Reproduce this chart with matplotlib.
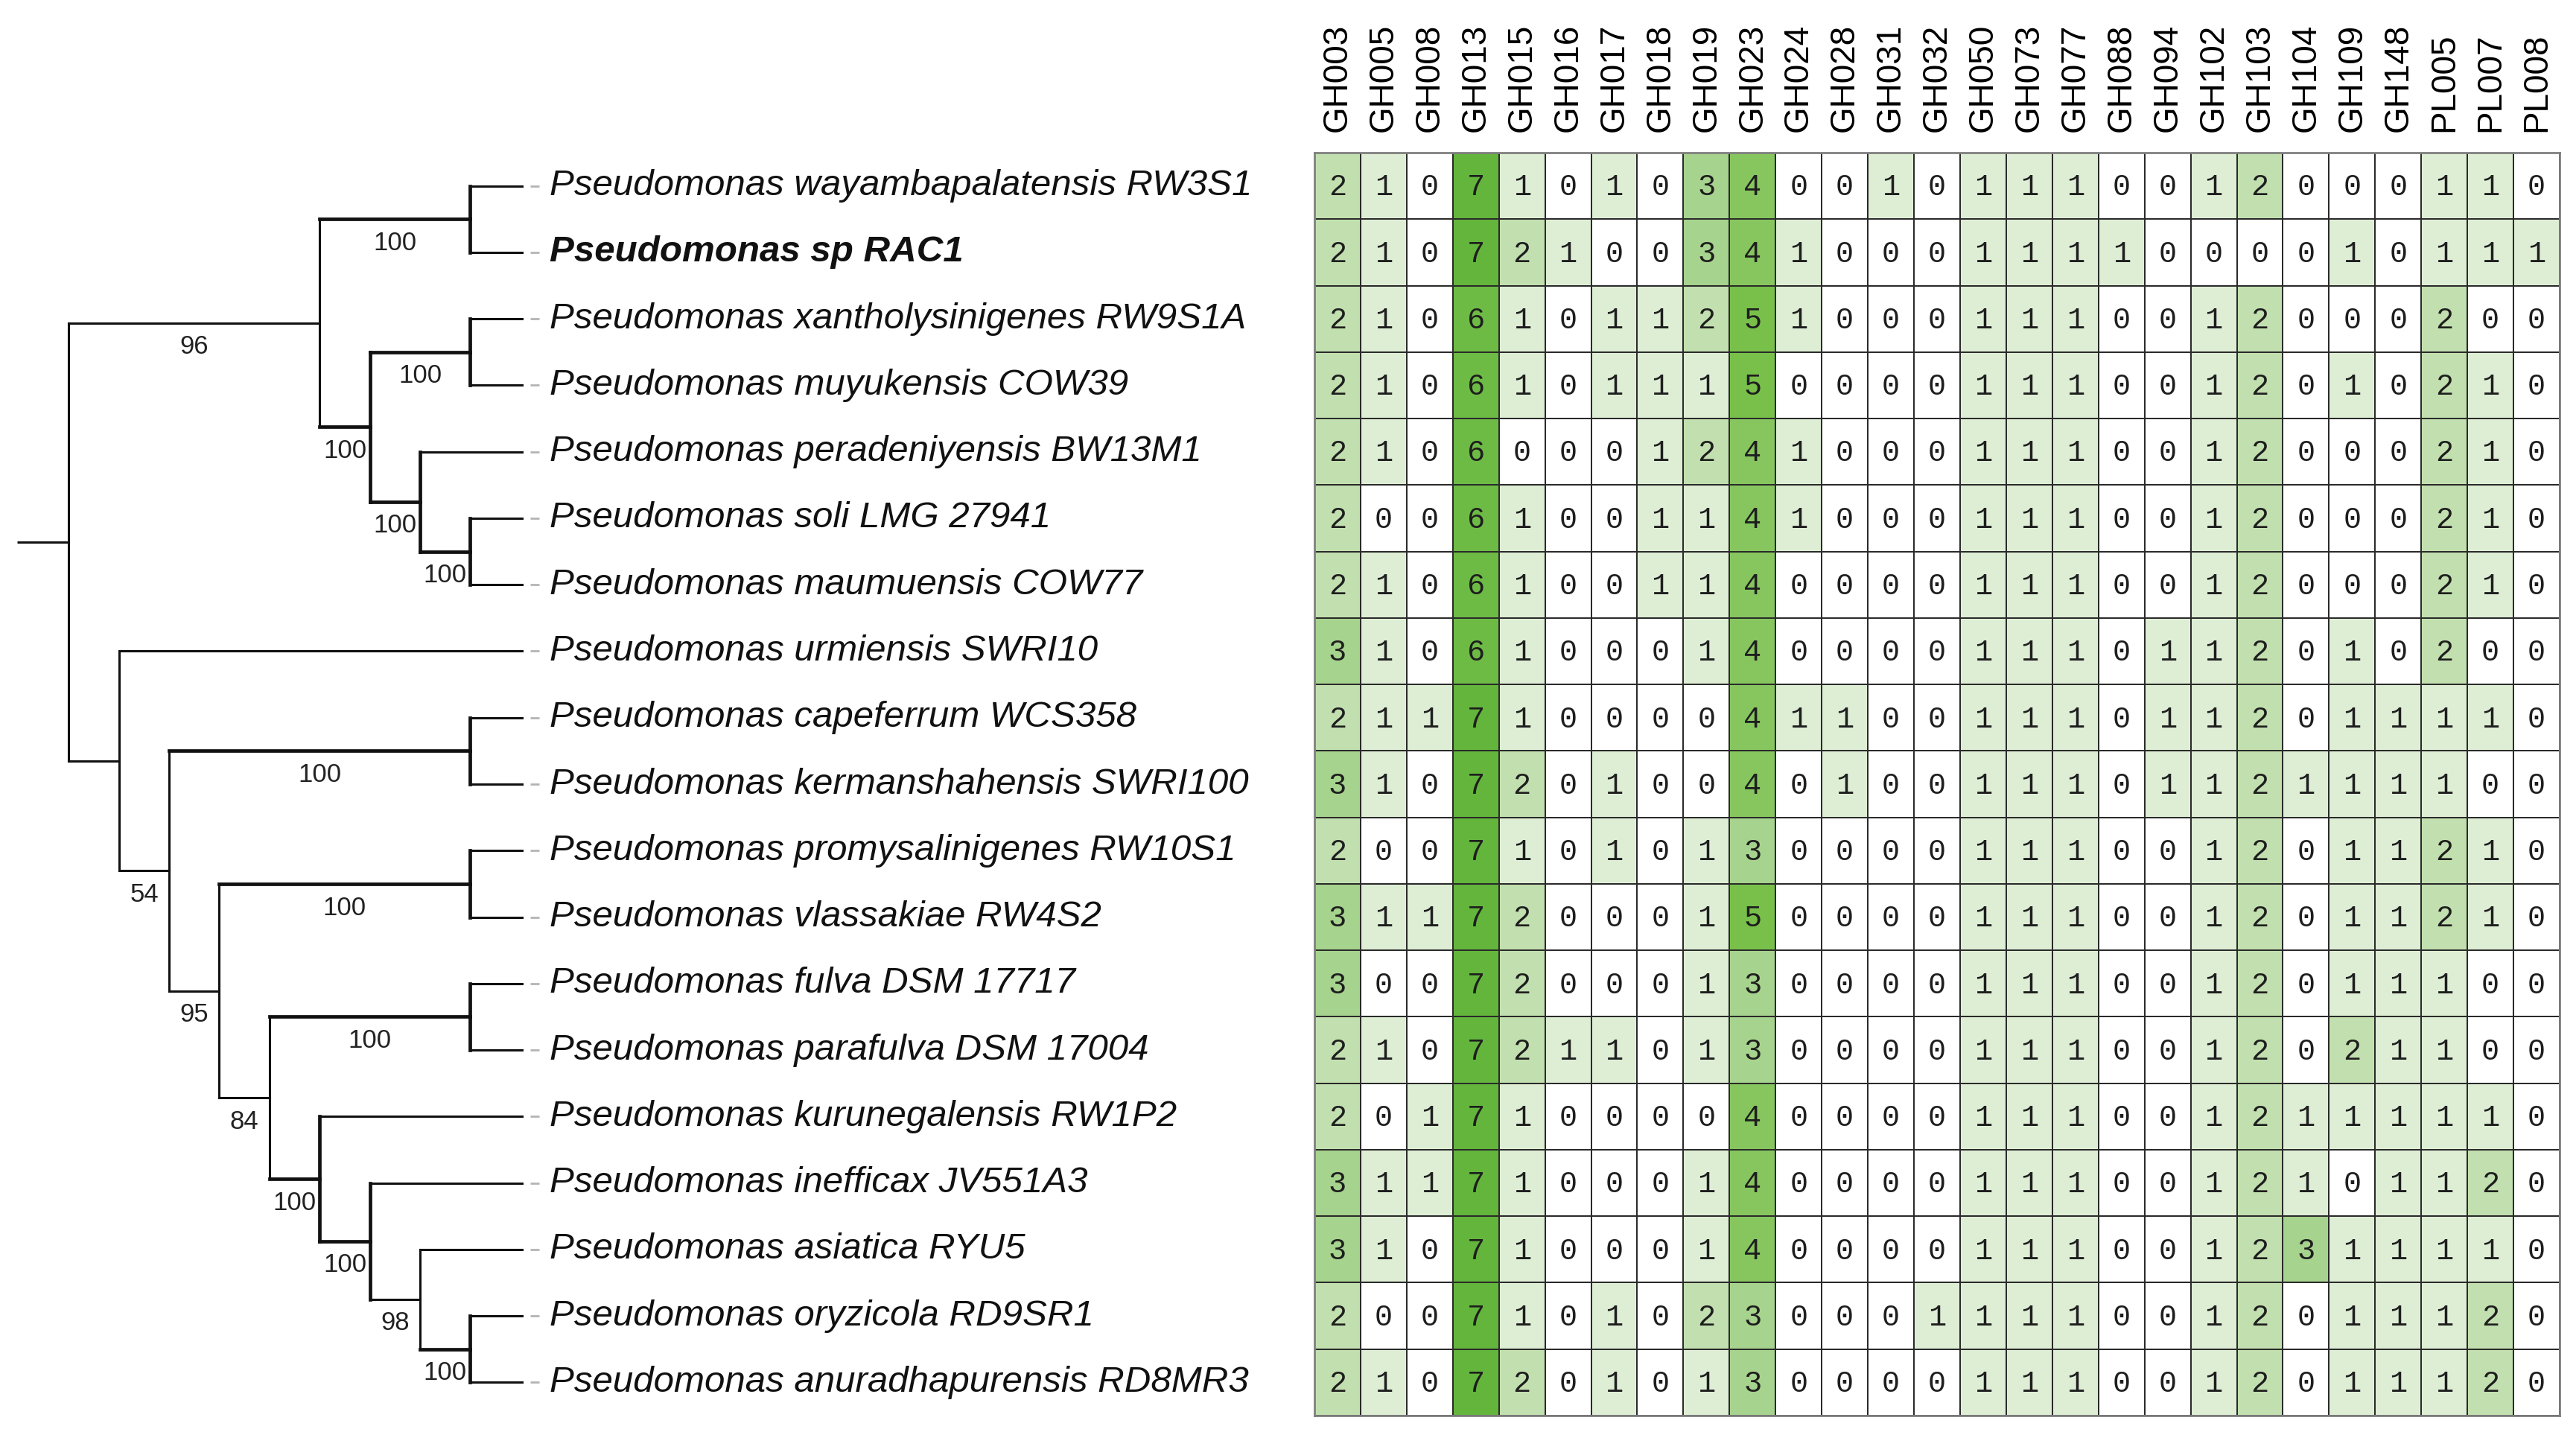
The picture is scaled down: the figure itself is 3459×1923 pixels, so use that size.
import matplotlib
matplotlib.use("Agg")
import matplotlib.pyplot as plt
import numpy as np
from matplotlib.colors import ListedColormap, BoundaryNorm

# ---------------- data ----------------
species = [
    "Pseudomonas wayambapalatensis RW3S1",
    "Pseudomonas sp RAC1",
    "Pseudomonas xantholysinigenes RW9S1A",
    "Pseudomonas muyukensis COW39",
    "Pseudomonas peradeniyensis BW13M1",
    "Pseudomonas soli LMG 27941",
    "Pseudomonas maumuensis COW77",
    "Pseudomonas urmiensis SWRI10",
    "Pseudomonas capeferrum WCS358",
    "Pseudomonas kermanshahensis SWRI100",
    "Pseudomonas promysalinigenes RW10S1",
    "Pseudomonas vlassakiae RW4S2",
    "Pseudomonas fulva DSM 17717",
    "Pseudomonas parafulva DSM 17004",
    "Pseudomonas kurunegalensis RW1P2",
    "Pseudomonas inefficax JV551A3",
    "Pseudomonas asiatica RYU5",
    "Pseudomonas oryzicola RD9SR1",
    "Pseudomonas anuradhapurensis RD8MR3",
]
highlight = "Pseudomonas sp RAC1"

families = ["GH003", "GH005", "GH008", "GH013", "GH015", "GH016", "GH017", "GH018",
            "GH019", "GH023", "GH024", "GH028", "GH031", "GH032", "GH050", "GH073",
            "GH077", "GH088", "GH094", "GH102", "GH103", "GH104", "GH109", "GH148",
            "PL005", "PL007", "PL008"]

counts = [
    [2, 1, 0, 7, 1, 0, 1, 0, 3, 4, 0, 0, 1, 0, 1, 1, 1, 0, 0, 1, 2, 0, 0, 0, 1, 1, 0],
    [2, 1, 0, 7, 2, 1, 0, 0, 3, 4, 1, 0, 0, 0, 1, 1, 1, 1, 0, 0, 0, 0, 1, 0, 1, 1, 1],
    [2, 1, 0, 6, 1, 0, 1, 1, 2, 5, 1, 0, 0, 0, 1, 1, 1, 0, 0, 1, 2, 0, 0, 0, 2, 0, 0],
    [2, 1, 0, 6, 1, 0, 1, 1, 1, 5, 0, 0, 0, 0, 1, 1, 1, 0, 0, 1, 2, 0, 1, 0, 2, 1, 0],
    [2, 1, 0, 6, 0, 0, 0, 1, 2, 4, 1, 0, 0, 0, 1, 1, 1, 0, 0, 1, 2, 0, 0, 0, 2, 1, 0],
    [2, 0, 0, 6, 1, 0, 0, 1, 1, 4, 1, 0, 0, 0, 1, 1, 1, 0, 0, 1, 2, 0, 0, 0, 2, 1, 0],
    [2, 1, 0, 6, 1, 0, 0, 1, 1, 4, 0, 0, 0, 0, 1, 1, 1, 0, 0, 1, 2, 0, 0, 0, 2, 1, 0],
    [3, 1, 0, 6, 1, 0, 0, 0, 1, 4, 0, 0, 0, 0, 1, 1, 1, 0, 1, 1, 2, 0, 1, 0, 2, 0, 0],
    [2, 1, 1, 7, 1, 0, 0, 0, 0, 4, 1, 1, 0, 0, 1, 1, 1, 0, 1, 1, 2, 0, 1, 1, 1, 1, 0],
    [3, 1, 0, 7, 2, 0, 1, 0, 0, 4, 0, 1, 0, 0, 1, 1, 1, 0, 1, 1, 2, 1, 1, 1, 1, 0, 0],
    [2, 0, 0, 7, 1, 0, 1, 0, 1, 3, 0, 0, 0, 0, 1, 1, 1, 0, 0, 1, 2, 0, 1, 1, 2, 1, 0],
    [3, 1, 1, 7, 2, 0, 0, 0, 1, 5, 0, 0, 0, 0, 1, 1, 1, 0, 0, 1, 2, 0, 1, 1, 2, 1, 0],
    [3, 0, 0, 7, 2, 0, 0, 0, 1, 3, 0, 0, 0, 0, 1, 1, 1, 0, 0, 1, 2, 0, 1, 1, 1, 0, 0],
    [2, 1, 0, 7, 2, 1, 1, 0, 1, 3, 0, 0, 0, 0, 1, 1, 1, 0, 0, 1, 2, 0, 2, 1, 1, 0, 0],
    [2, 0, 1, 7, 1, 0, 0, 0, 0, 4, 0, 0, 0, 0, 1, 1, 1, 0, 0, 1, 2, 1, 1, 1, 1, 1, 0],
    [3, 1, 1, 7, 1, 0, 0, 0, 1, 4, 0, 0, 0, 0, 1, 1, 1, 0, 0, 1, 2, 1, 0, 1, 1, 2, 0],
    [3, 1, 0, 7, 1, 0, 0, 0, 1, 4, 0, 0, 0, 0, 1, 1, 1, 0, 0, 1, 2, 3, 1, 1, 1, 1, 0],
    [2, 0, 0, 7, 1, 0, 1, 0, 2, 3, 0, 0, 0, 1, 1, 1, 1, 0, 0, 1, 2, 0, 1, 1, 1, 2, 0],
    [2, 1, 0, 7, 2, 0, 1, 0, 1, 3, 0, 0, 0, 0, 1, 1, 1, 0, 0, 1, 2, 0, 1, 1, 1, 2, 0],
]

# tree: leaves are row indices, internal labels are bootstrap values
newick = ("(((((0:0.70,1:0.70)100:2.02,((2:0.70,3:0.70)100:1.34,"
          "(4:1.37,(5:0.70,6:0.70)100:0.67)100:0.67)100:0.68)96:3.37,"
          "(7:5.41,((8:0.70,9:0.70)100:4.04,((10:0.70,11:0.70)100:3.37,"
          "((12:0.70,13:0.70)100:2.69,(14:2.72,(15:2.04,(16:1.37,"
          "(17:0.70,18:0.70)100:0.67)98:0.67)100:0.68)100:0.67)84:0.68)95:0.67)54:0.67):0.68)):0.69);")

level_colors = ["#ffffff", "#deeed5", "#c2e0af", "#a6d38d", "#87c65f",
                "#79c04a", "#6dbb45", "#63b53c"]

# ---------------- tree parsing ----------------
def parse(s, i=0):
    node = {"children": [], "label": "", "length": 0.0}
    if s[i] == "(":
        i += 1
        while True:
            child, i = parse(s, i)
            node["children"].append(child)
            if s[i] == ",":
                i += 1
                continue
            if s[i] == ")":
                i += 1
                break
    j = i
    while s[j] not in ":,);":
        j += 1
    node["label"] = s[i:j]
    i = j
    if s[i] == ":":
        j = i + 1
        while s[j] not in ",);":
            j += 1
        node["length"] = float(s[i + 1:j])
        i = j
    return node, i


outer, _ = parse(newick)
root = outer["children"][0]
stub = root["length"]


def layout(node, x):
    node["x"] = x
    if node["children"]:
        for c in node["children"]:
            layout(c, x + c["length"])
        node["y"] = (node["children"][0]["y"] + node["children"][-1]["y"]) / 2
    else:
        node["y"] = float(int(node["label"]))


layout(root, 0.0)

# ---------------- figure ----------------
W, H = 3459, 1923
fig = plt.figure(figsize=(W / 100, H / 100), dpi=100)
fig.patch.set_facecolor("white")

hm_left, hm_right, hm_top, hm_bottom = 1765, 3437, 205, 1901
ax_h = fig.add_axes([hm_left / W, 1 - hm_bottom / H, (hm_right - hm_left) / W,
                     (hm_bottom - hm_top) / H])
ax_t = fig.add_axes([0, 1 - hm_bottom / H, hm_left / W, (hm_bottom - hm_top) / H])

nrow, ncol = len(species), len(families)
data = np.array(counts)

# heatmap
cmap = ListedColormap(level_colors)
norm = BoundaryNorm(np.arange(-0.5, len(level_colors) + 0.5, 1), cmap.N)
ax_h.pcolormesh(np.arange(ncol + 1) - 0.5, np.arange(nrow + 1) - 0.5, data,
                cmap=cmap, norm=norm, edgecolors="#2a2a2a", linewidth=1.4)
ax_h.set_xlim(-0.5, ncol - 0.5)
ax_h.set_ylim(nrow - 0.5, -0.5)
for r in range(nrow):
    for c in range(ncol):
        ax_h.text(c, r + 0.02, str(data[r, c]), ha="center", va="center",
                  fontsize=29, family="Liberation Mono", color="#1e1e1e")
ax_h.xaxis.tick_top()
ax_h.set_xticks(range(ncol))
ax_h.set_xticklabels(families, rotation=90, fontsize=33, family="Liberation Sans",
                     va="bottom")
ax_h.tick_params(axis="x", length=0, pad=20)
ax_h.set_yticks([])
for sp in ax_h.spines.values():
    sp.set_color("#808080")
    sp.set_linewidth(2)

# tree
px0 = 92  # root pixel position
ax_t.set_xlim((0 - px0) / 100, hm_left / 100 - px0 / 100)
ax_t.set_ylim(nrow - 0.5, -0.5)
ax_t.axis("off")

thin, thick = 2.2, 3.4


def width_of(node):
    return thick if node["label"] == "100" else thin


def draw(node, parent=None):
    kids = node["children"]
    if parent is not None:
        lw = width_of(node) if kids else thin
        ax_t.plot([parent["x"], node["x"]], [node["y"], node["y"]], color="#111111",
                  lw=lw, solid_capstyle="projecting")
        if kids and node["label"]:
            ax_t.text((parent["x"] + node["x"]) / 2, node["y"] + 0.36, node["label"],
                      ha="center", va="center", fontsize=25, family="Liberation Sans",
                      color="#222222")
    if kids:
        lw = width_of(node) if parent is not None else thin
        ax_t.plot([node["x"], node["x"]], [kids[0]["y"], kids[-1]["y"]],
                  color="#111111", lw=lw, solid_capstyle="projecting")
        for c in kids:
            draw(c, node)
    else:
        idx = int(node["label"])
        ax_t.plot([node["x"] + 0.11, node["x"] + 0.23], [node["y"], node["y"]],
                  color="#b4b4b4", lw=2.0, solid_capstyle="butt")
        name = species[idx]
        ax_t.text(node["x"] + 0.37, node["y"], name, ha="left", va="center",
                  fontsize=35.5, family="Liberation Sans", style="italic",
                  fontweight="bold" if name == highlight else "normal",
                  color="#111111")


ax_t.plot([-stub, 0], [root["y"], root["y"]], color="#111111", lw=thin,
          solid_capstyle="butt")
draw(root)

fig.savefig("out.png", dpi=100, facecolor="white")
